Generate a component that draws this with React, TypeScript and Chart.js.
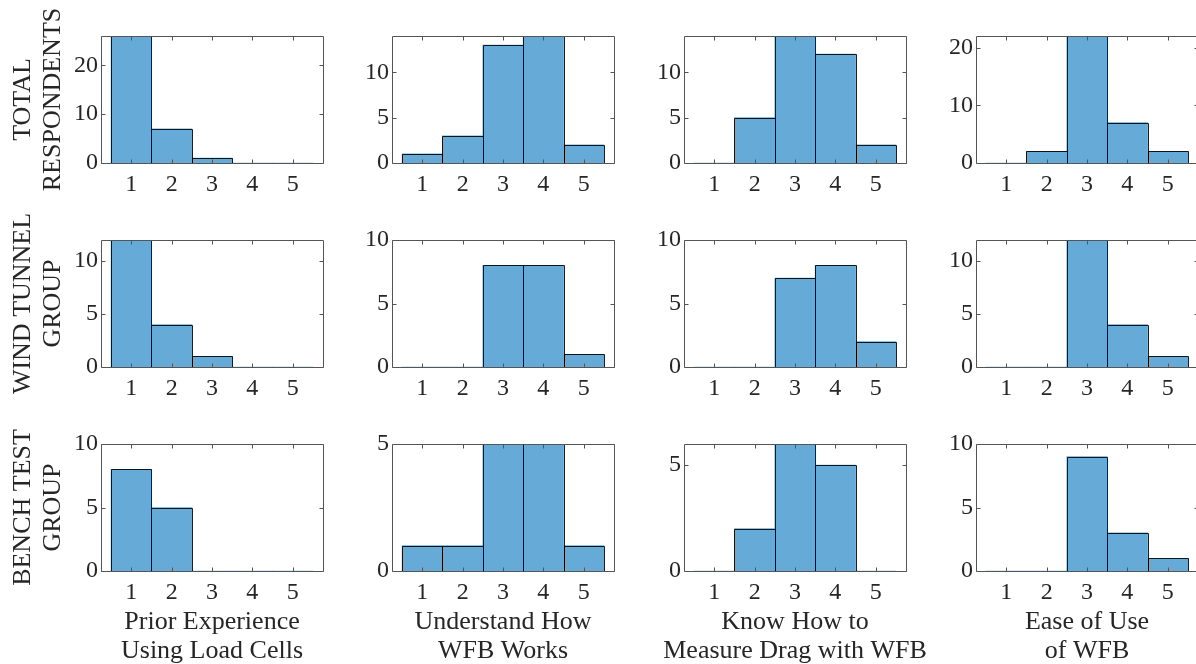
import React, { useEffect, useRef } from "react";
import { Chart, registerables } from "chart.js";

Chart.register(...registerables);

// ---------- data ----------
const responseLevels = [1, 2, 3, 4, 5];

const totalPriorExperience = [26, 7, 1, 0, 0];
const totalUnderstandWFB = [1, 3, 13, 14, 2];
const totalMeasureDrag = [0, 5, 14, 12, 2];
const totalEaseOfUse = [0, 2, 22, 7, 2];

const windPriorExperience = [12, 4, 1, 0, 0];
const windUnderstandWFB = [0, 0, 8, 8, 1];
const windMeasureDrag = [0, 0, 7, 8, 2];
const windEaseOfUse = [0, 0, 12, 4, 1];

const benchPriorExperience = [8, 5, 0, 0, 0];
const benchUnderstandWFB = [1, 1, 5, 5, 1];
const benchMeasureDrag = [0, 2, 6, 5, 0];
const benchEaseOfUse = [0, 0, 9, 3, 1];

const rowTitles = [
  ["TOTAL", "RESPONDENTS"],
  ["WIND TUNNEL", "GROUP"],
  ["BENCH TEST", "GROUP"],
];
const columnTitles = [
  ["Prior Experience", "Using Load Cells"],
  ["Understand How", "WFB Works"],
  ["Know How to", "Measure Drag with WFB"],
  ["Ease of Use", "of WFB"],
];

const panelCounts = [
  [totalPriorExperience, totalUnderstandWFB, totalMeasureDrag, totalEaseOfUse],
  [windPriorExperience, windUnderstandWFB, windMeasureDrag, windEaseOfUse],
  [benchPriorExperience, benchUnderstandWFB, benchMeasureDrag, benchEaseOfUse],
];

const yMaxTotal = [26, 14, 14, 22];
const yMaxWind = [12, 10, 10, 12];
const yMaxBench = [10, 5, 6, 10];
const panelYMax = [yMaxTotal, yMaxWind, yMaxBench];

const yTicksTotal = [[0, 10, 20], [0, 5, 10], [0, 5, 10], [0, 10, 20]];
const yTicksWind = [[0, 5, 10], [0, 5, 10], [0, 5, 10], [0, 5, 10]];
const yTicksBench = [[0, 5, 10], [0, 5], [0, 5], [0, 5, 10]];
const panelYTicks = [yTicksTotal, yTicksWind, yTicksBench];

const xTickValues = [1, 2, 3, 4, 5];
const xLimits = [0.25, 5.75];

// ---------- layout / style ----------
const PLOT_LEFTS = [101, 392, 684, 976];
const PLOT_TOPS = [36, 240, 444];
const PLOT_W = 222;
const PLOT_H = 127;
const TOP_PAD_FIRST = 40;
const TOP_PAD = 24;
const RIGHT_PAD = 30;
const Y_AXIS_W_FIRST = 101;
const Y_AXIS_W = 60;
const X_AXIS_H = 40;
const X_AXIS_H_LAST = 95;

const FONT = "'Liberation Serif', 'Times New Roman', Times, serif";
const TEXT_COLOR = "#262626";
const BAR_FILL = "rgb(102,170,215)";
const BAR_EDGE = "rgba(0,0,0,0.88)";
const BOX_COLOR = "#555555";
const TICK_LEN = 4;
const TICK_FONT_SIZE = 24;
const TITLE_FONT_SIZE = 26;

// title line offsets relative to the plot area
const ROW_TITLE_LINE_OFFSETS = [77.5, 47.5]; // px left of plot area (text centre)
const COL_TITLE_LINE_OFFSETS = [51, 80]; // px below plot area (text centre)

const snap = (v: number) => Math.round(v) + 0.5;

const framePlugin = {
  id: "matlabFrame",
  afterDatasetsDraw(chart: any) {
    const ctx = chart.ctx;
    const meta = chart.getDatasetMeta(0);
    ctx.save();
    ctx.strokeStyle = BAR_EDGE;
    ctx.lineWidth = 1;
    meta.data.forEach((el: any) => {
      const { x, y, base, width } = el.getProps(["x", "y", "base", "width"], true);
      const l = snap(x - width / 2);
      const r = snap(x + width / 2);
      const t = snap(y);
      const b = snap(base);
      ctx.beginPath();
      if (Math.abs(b - t) < 0.5) {
        ctx.moveTo(l, b);
        ctx.lineTo(r, b);
      } else {
        ctx.rect(l, t, r - l, b - t);
      }
      ctx.stroke();
    });
    ctx.restore();
  },
  afterDraw(chart: any) {
    const ctx = chart.ctx;
    const a = chart.chartArea;
    const xs = chart.scales.x;
    const ys = chart.scales.y;
    const L = snap(a.left);
    const R = snap(a.right);
    const T = snap(a.top);
    const B = snap(a.bottom);
    ctx.save();
    ctx.strokeStyle = BOX_COLOR;
    ctx.lineWidth = 1;
    ctx.beginPath();
    ctx.rect(L, T, R - L, B - T);
    xs.ticks.forEach((t: any) => {
      const px = snap(xs.getPixelForValue(t.value));
      ctx.moveTo(px, B);
      ctx.lineTo(px, B - TICK_LEN);
      ctx.moveTo(px, T);
      ctx.lineTo(px, T + TICK_LEN);
    });
    ys.ticks.forEach((t: any) => {
      const py = snap(ys.getPixelForValue(t.value));
      ctx.moveTo(L, py);
      ctx.lineTo(L + TICK_LEN, py);
      ctx.moveTo(R, py);
      ctx.lineTo(R - TICK_LEN, py);
    });
    ctx.stroke();

    // titles (drawn without width compression)
    const opts = chart.options.plugins.matlabFrame || {};
    ctx.fillStyle = TEXT_COLOR;
    ctx.font = `${TITLE_FONT_SIZE}px ${FONT}`;
    ctx.textAlign = "center";
    ctx.textBaseline = "middle";
    if (opts.rowTitle) {
      const cy = (a.top + a.bottom) / 2;
      (opts.rowTitle as string[]).forEach((line, i) => {
        ctx.save();
        ctx.translate(a.left - ROW_TITLE_LINE_OFFSETS[i], cy);
        ctx.rotate(-Math.PI / 2);
        ctx.fillText(line, 0, 0);
        ctx.restore();
      });
    }
    if (opts.colTitle) {
      const cx = (a.left + a.right) / 2;
      (opts.colTitle as string[]).forEach((line, i) => {
        ctx.fillText(line, cx, a.bottom + COL_TITLE_LINE_OFFSETS[i]);
      });
    }
    ctx.restore();
  },
};

function Panel({ row, col }: { row: number; col: number }) {
  const ref = useRef<HTMLCanvasElement>(null);
  const yw = col === 0 ? Y_AXIS_W_FIRST : Y_AXIS_W;
  const xh = row === 2 ? X_AXIS_H_LAST : X_AXIS_H;
  const tp = col === 0 ? TOP_PAD_FIRST : TOP_PAD;
  const xhTotal = col === 0 ? Math.max(xh, TOP_PAD_FIRST) : xh;
  const w = yw + PLOT_W + RIGHT_PAD;
  const h = tp + PLOT_H + xhTotal;

  useEffect(() => {
    const counts = panelCounts[row][col];
    const yTicks = panelYTicks[row][col];
    const chart = new Chart(ref.current as HTMLCanvasElement, {
      type: "bar",
      data: {
        datasets: [
          {
            data: responseLevels.map((r, i) => ({ x: r, y: counts[i] })),
            backgroundColor: BAR_FILL,
            borderWidth: 0,
            barPercentage: 1,
            categoryPercentage: 1,
          } as any,
        ],
      },
      options: {
        animation: false,
        responsive: false,
        events: [],
        layout: { padding: { top: tp, right: RIGHT_PAD, left: 0, bottom: 0 } },
        plugins: {
          legend: { display: false },
          tooltip: { enabled: false },
          matlabFrame: {
            rowTitle: col === 0 ? rowTitles[row] : null,
            colTitle: row === 2 ? columnTitles[col] : null,
          },
        } as any,
        scales: {
          x: {
            type: "linear",
            offset: false,
            min: xLimits[0],
            max: xLimits[1],
            grid: { display: false, drawTicks: false },
            border: { display: false },
            afterBuildTicks: (s: any) => {
              s.ticks = xTickValues.map((v) => ({ value: v }));
            },
            afterFit: (s: any) => {
              s.height = xhTotal;
            },
            ticks: {
              font: { family: FONT, size: TICK_FONT_SIZE },
              color: TEXT_COLOR,
              padding: 7,
              maxRotation: 0,
              autoSkip: false,
            },
          },
          y: {
            type: "linear",
            min: 0,
            max: panelYMax[row][col],
            grid: { display: false, drawTicks: false },
            border: { display: false },
            afterBuildTicks: (s: any) => {
              s.ticks = yTicks.map((v) => ({ value: v }));
            },
            afterFit: (s: any) => {
              s.width = yw;
            },
            ticks: {
              font: { family: FONT, size: TICK_FONT_SIZE },
              color: TEXT_COLOR,
              padding: 3,
              autoSkip: false,
            },
          },
        } as any,
      },
      plugins: [framePlugin],
    });
    return () => chart.destroy();
  }, [row, col]);

  return (
    <canvas
      ref={ref}
      width={w}
      height={h}
      style={{
        position: "absolute",
        left: PLOT_LEFTS[col] - yw,
        top: PLOT_TOPS[row] - tp,
        width: w,
        height: h,
      }}
    />
  );
}

export default function App() {
  const cells: React.ReactNode[] = [];
  for (let r = 0; r < 3; r++) {
    for (let c = 0; c < 4; c++) {
      cells.push(<Panel key={`${r}-${c}`} row={r} col={c} />);
    }
  }
  return (
    <div
      style={{
        position: "fixed",
        left: 0,
        top: 0,
        width: 1196,
        height: 664,
        overflow: "hidden",
        background: "#ffffff",
      }}
    >
      {cells}
    </div>
  );
}
